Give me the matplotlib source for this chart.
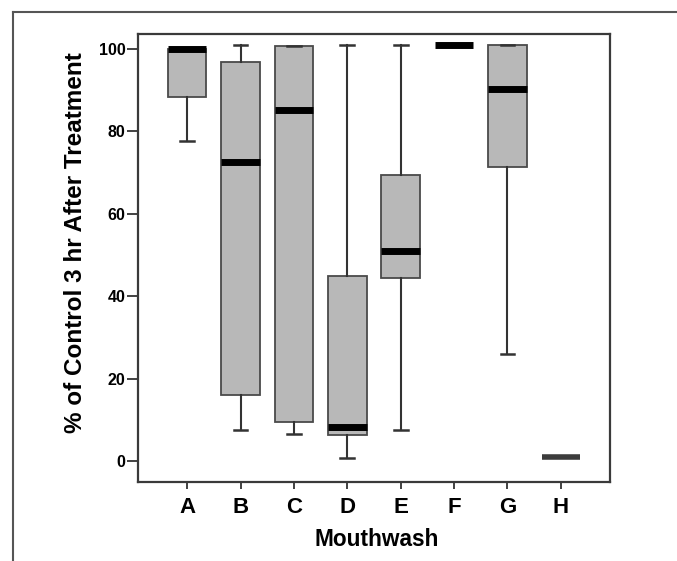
import matplotlib.pyplot as plt
from matplotlib.lines import Line2D

plt.rcParams['font.family'] = ['Liberation Sans', 'DejaVu Sans']
plt.rcParams['font.weight'] = 'bold'

# box summaries (% of control, 3 hr after treatment)
mouthwash = ["A", "B", "C", "D", "E", "F", "G", "H"]
whisker_low = [77.7, 7.4, 6.5, 0.8, 7.6, 101.0, 26.0, 1.0]
q1 = [88.4, 16.0, 9.5, 6.3, 44.4, 101.0, 71.4, 1.0]
median = [100.0, 72.6, 85.2, 8.2, 51.0, 101.0, 90.3, 1.0]
q3 = [100.0, 96.8, 100.8, 44.9, 69.5, 101.0, 101.0, 1.0]
whisker_high = [100.0, 101.0, 100.8, 101.0, 101.0, 101.0, 101.0, 1.0]

stats = []
for i, name in enumerate(mouthwash):
    stats.append({
        "label": name,
        "whislo": whisker_low[i],
        "q1": q1[i],
        "med": median[i],
        "q3": q3[i],
        "whishi": whisker_high[i],
        "fliers": [],
    })

fig = plt.figure(figsize=(6.77, 5.61), dpi=100)
ax = fig.add_axes([138 / 677, 1 - 482 / 561, 472 / 677, 448 / 561])

edge = "#4a4a4a"
bp = ax.bxp(
    stats,
    positions=range(1, len(mouthwash) + 1),
    widths=0.72,
    capwidths=0.26,
    patch_artist=True,
    showfliers=False,
    boxprops=dict(facecolor="#b8b8b8", edgecolor=edge, linewidth=1.3),
    whiskerprops=dict(color="#333333", linewidth=1.5),
    capprops=dict(color="#333333", linewidth=1.8),
    medianprops=dict(color="black", linewidth=5, solid_capstyle="butt"),
)
# H is drawn in a dark grey rather than black in the scan
bp["medians"][-1].set_color("#3c3c3c")
bp["medians"][-1].set_linewidth(4)
for box, name in zip(bp["boxes"], mouthwash):
    if name in ("F", "H"):
        box.set_visible(False)
for cap, name in zip(bp["caps"], [m for m in mouthwash for _ in range(2)]):
    if name in ("F", "H"):
        cap.set_visible(False)

ax.set_xlim(0.08, 8.92)
ax.set_ylim(-5.1, 103.6)
ax.set_yticks([0, 20, 40, 60, 80, 100])
ax.set_xticks(range(1, len(mouthwash) + 1))
ax.set_xticklabels(mouthwash, fontsize=16, fontweight="bold")
ax.tick_params(axis="y", length=8, width=1.3, pad=1, labelsize=11.5, color="#333333")
ax.tick_params(axis="x", length=5, width=1.3, pad=6, color="#333333")
for lbl in ax.get_yticklabels():
    lbl.set_fontweight("bold")
for sp in ax.spines.values():
    sp.set_color("#3a3a3a")
    sp.set_linewidth(1.6)

fig.text(76 / 677, 1 - 243 / 561, "% of Control 3 hr After Treatment",
         rotation=90, ha="center", va="center", fontsize=17.5, fontweight="bold")
fig.text(377 / 677, 1 - 540 / 561, "Mouthwash",
         ha="center", va="center", fontsize=16.3, fontweight="bold")

# outer frame of the scanned figure (left and top edges)
fig.add_artist(Line2D([13 / 677, 13 / 677], [0, 1 - 12 / 561],
                      transform=fig.transFigure, color="#555555", linewidth=1.5))
fig.add_artist(Line2D([13 / 677, 1], [1 - 12 / 561, 1 - 12 / 561],
                      transform=fig.transFigure, color="#555555", linewidth=1.5))

fig.savefig("out.png", dpi=100)
